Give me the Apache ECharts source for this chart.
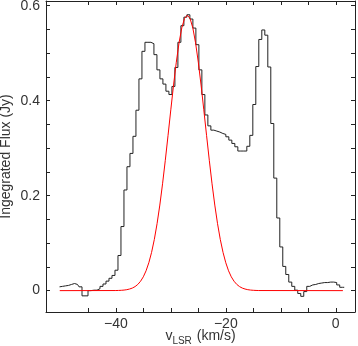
<!DOCTYPE html>
<html>
<head>
<meta charset="utf-8">
<style>
  html, body { margin: 0; padding: 0; background: #fff; }
  #chart { width: 358px; height: 346px; }
</style>
<script src="https://cdn.jsdelivr.net/npm/echarts@6/dist/echarts.min.js"></script>
</head>
<body>
<div id="chart"></div>
<script>
// channel velocities (km/s) and integrated flux (Jy) of the spectrum
var velocity = [
  -50.24, -49.69, -49.15, -48.60, -48.06, -47.51, -46.97, -46.42, -45.88, -45.33,
  -44.79, -44.24, -43.70, -43.15, -42.61, -42.06, -41.52, -40.97, -40.43, -39.88,
  -39.34, -38.79, -38.25, -37.70, -37.16, -36.61, -36.07, -35.52, -34.98, -34.43,
  -33.89, -33.34, -32.80, -32.25, -31.71, -31.16, -30.62, -30.07, -29.53, -28.98,
  -28.44, -27.89, -27.35, -26.80, -26.26, -25.71, -25.17, -24.62, -24.08, -23.53,
  -22.99, -22.44, -21.90, -21.35, -20.81, -20.26, -19.72, -19.17, -18.63, -18.08,
  -17.54, -16.99, -16.45, -15.90, -15.36, -14.81, -14.27, -13.72, -13.18, -12.63,
  -12.09, -11.54, -11.00, -10.45, -9.91, -9.36, -8.82, -8.27, -7.73, -7.18,
  -6.64, -6.09, -5.55, -5.00, -4.46, -3.91, -3.37, -2.82, -2.28, -1.73,
  -1.19, -0.64, -0.10, 0.45, 0.99, 1.54
];
var flux = [
  0.008, 0.009, 0.010, 0.011, 0.013, 0.015, 0.013, 0.008, -0.011, -0.011,
  0.000, 0.001, 0.001, 0.004, 0.009, 0.014, 0.020, 0.026, 0.032, 0.043,
  0.074, 0.135, 0.212, 0.261, 0.289, 0.325, 0.380, 0.446, 0.504, 0.523,
  0.523, 0.520, 0.497, 0.465, 0.446, 0.435, 0.420, 0.413, 0.430, 0.470,
  0.523, 0.558, 0.576, 0.581, 0.572, 0.553, 0.518, 0.465, 0.413, 0.370,
  0.347, 0.338, 0.336, 0.334, 0.331, 0.329, 0.324, 0.317, 0.310, 0.303,
  0.294, 0.294, 0.294, 0.304, 0.327, 0.392, 0.472, 0.529, 0.549, 0.538,
  0.471, 0.352, 0.237, 0.153, 0.092, 0.051, 0.034, 0.018, 0.009, 0.001,
  -0.006, -0.012, -0.002, 0.009, 0.012, 0.013, 0.015, 0.016, 0.017, 0.017,
  0.018, 0.018, 0.017, 0.012, 0.007, 0.007
];

// red fitted profile
var fitVelocity = [
  -50.2, -40, -39.5, -39, -38.5, -38, -37.5, -37, -36.5, -36, -35.5, -35, -34.5, -34,
  -33.5, -33, -32.5, -32, -31.5, -31, -30.5, -30, -29.5, -29, -28.5, -28, -27.5, -27,
  -26.5, -26, -25.5, -25, -24.5, -24, -23.5, -23, -22.5, -22, -21.5, -21, -20.5, -20,
  -19.5, -19, -18.5, -18, -17.5, -17, -16.5, -16, -15.5, -15, -14.5, -14, 1.3
];
var fitFlux = [
  0, 0.0002, 0.0004, 0.0007, 0.0012, 0.0020, 0.0034, 0.0054, 0.0085, 0.0131, 0.0198, 0.0291, 0.0418, 0.0587,
  0.0805, 0.1078, 0.1410, 0.1802, 0.2250, 0.2745, 0.3271, 0.3808, 0.4331, 0.4811, 0.5221, 0.5535, 0.5733, 0.580,
  0.5733, 0.5535, 0.5221, 0.4811, 0.4331, 0.3808, 0.3271, 0.2745, 0.2250, 0.1802, 0.1410, 0.1078, 0.0805, 0.0587,
  0.0418, 0.0291, 0.0198, 0.0131, 0.0085, 0.0054, 0.0034, 0.0020, 0.0012, 0.0007, 0.0004, 0.0002, 0
];

var xTicks = [-45, -40, -35, -30, -25, -20, -15, -10, -5, 0];
var xLabels = [-40, -20, 0];
var yTicks = [0, 0.05, 0.1, 0.15, 0.2, 0.25, 0.3, 0.35, 0.4, 0.45, 0.5, 0.55, 0.6];
var yLabels = [0, 0.2, 0.4, 0.6];

var frameColor = '#222';
var textColor = '#333';
var fontName = 'Liberation Sans';

function pairs(xs, ys) {
  return xs.map(function (x, i) { return [x, ys[i]]; });
}

var myChart = echarts.init(document.getElementById('chart'));

function xAxisDef(pos, withLabels) {
  return {
    type: 'value',
    position: pos,
    min: -52.7,
    max: 3.5,
    axisLine: { show: true, onZero: false, lineStyle: { color: frameColor, width: 1 } },
    axisTick: { show: true, inside: true, length: 4, customValues: xTicks, lineStyle: { color: frameColor } },
    axisLabel: {
      show: withLabels,
      customValues: xLabels,
      color: textColor,
      fontFamily: fontName,
      fontSize: 14,
      margin: 5,
      formatter: function (v) { return String(v).replace('-', '\u2212'); }
    },
    splitLine: { show: false },
    name: withLabels ? '{v|v}{sub|LSR}{v| (km/s)}' : '',
    nameLocation: 'middle',
    nameGap: 17,
    nameMoveOverlap: false,
    nameTextStyle: {
      color: textColor,
      fontFamily: fontName,
      fontSize: 14,
      rich: {
        v: { fontSize: 14, fontFamily: fontName, color: textColor, lineHeight: 18, verticalAlign: 'top' },
        sub: { fontSize: 10, fontFamily: fontName, color: textColor, lineHeight: 18, verticalAlign: 'top', padding: [7, 1, 0, 0] }
      }
    }
  };
}

function yAxisDef(pos, withLabels) {
  return {
    type: 'value',
    position: pos,
    min: -0.045,
    max: 0.61,
    axisLine: { show: true, onZero: false, lineStyle: { color: frameColor, width: 1 } },
    axisTick: { show: true, inside: true, length: 4, customValues: yTicks, lineStyle: { color: frameColor } },
    axisLabel: {
      show: withLabels,
      customValues: yLabels,
      color: textColor,
      fontFamily: fontName,
      fontSize: 14,
      margin: 6,
      formatter: function (v) { return v === 0 ? '0' : v.toFixed(1); }
    },
    splitLine: { show: false },
    name: withLabels ? 'Ingegrated Flux (Jy)' : '',
    nameLocation: 'middle',
    nameGap: 33,
    nameMoveOverlap: false,
    nameTextStyle: { color: textColor, fontFamily: fontName, fontSize: 14 }
  };
}

var option = {
  animation: false,
  backgroundColor: '#fff',
  grid: { left: 46, right: 3, top: 1, bottom: 34, show: false, outerBoundsMode: 'none' },
  xAxis: [xAxisDef('bottom', true), xAxisDef('top', false)],
  yAxis: [yAxisDef('left', true), yAxisDef('right', false)],
  series: [
    {
      name: 'spectrum',
      type: 'line',
      step: 'middle',
      xAxisIndex: 0,
      yAxisIndex: 0,
      data: pairs(velocity, flux),
      showSymbol: false,
      symbol: 'none',
      lineStyle: { color: '#222', width: 1 }
    },
    {
      name: 'fit',
      type: 'line',
      xAxisIndex: 0,
      yAxisIndex: 0,
      data: pairs(fitVelocity, fitFlux),
      showSymbol: false,
      symbol: 'none',
      lineStyle: { color: '#ff0000', width: 1 }
    }
  ]
};

myChart.setOption(option);

window.addEventListener('resize', function () {
  myChart.resize();
});
</script>
</body>
</html>
